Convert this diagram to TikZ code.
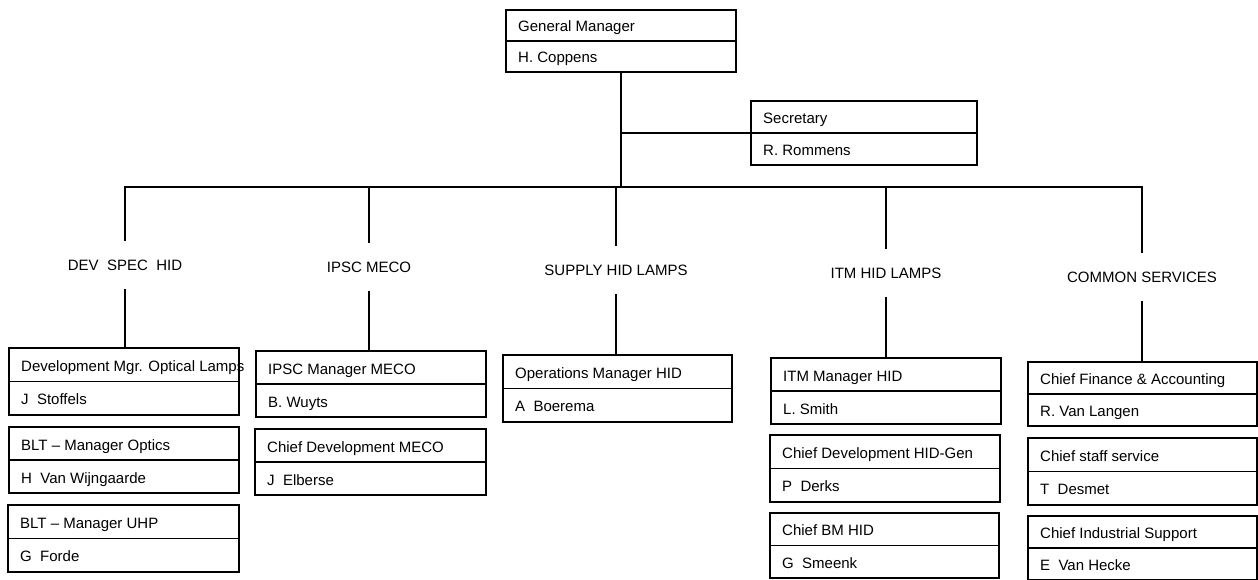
\documentclass[tikz,border=0pt]{standalone}
\usepackage{fontspec}
\setmainfont{Liberation Sans}
\usetikzlibrary{calc}
\tikzset{
  ln/.style={line width=1.5pt, line cap=rect},
  obx/.style={draw, line width=1.5pt, anchor=north west, inner sep=0pt, outer sep=0pt},
  otx/.style={anchor=west, inner sep=0pt, font=\fontsize{15}{17}\selectfont, text height=14pt, text depth=1pt},
  lbl/.style={inner xsep=2pt, inner ysep=19pt, font=\fontsize{15}{17}\selectfont, text height=11pt, text depth=0pt}
}
\newcommand\obox[7]{%
  \node[obx, minimum width=#4pt, minimum height=#5pt] (#1) at (#2,#3) {};
  \draw[ln] (#1.west) -- (#1.east);
  \node[otx] (#1t) at ([xshift=12pt]$(#1.north west)!0.5!(#1.west)$) {#6};
  \node[otx] (#1p) at ([xshift=12pt]$(#1.west)!0.5!(#1.south west)$) {#7};
}
\begin{document}
\begin{tikzpicture}[x=1pt,y=-1pt]
\useasboundingbox (0,0) rectangle (1258,580);
% top
\obox{gm}{506}{10}{230}{62}{General Manager}{H. Coppens}
\obox{sec}{751}{101}{226}{64}{Secretary}{R. Rommens}
% column labels
\node[lbl] (devl) at (125,265) {DEV\ \ SPEC\ \ HID};
\node[lbl] (ipsl) at (369,267) {IPSC MECO};
\node[lbl] (supl) at (616,270) {SUPPLY HID LAMPS};
\node[lbl] (itml) at (886,273) {ITM HID LAMPS};
\node[lbl] (coml) at (1142,277) {COMMON SERVICES};
% DEV column
\obox{dev1}{9}{348}{230}{67}{Development Mgr. Optical Lamps}{J\ \ Stoffels}
\obox{dev2}{9}{427}{230}{66}{BLT -- Manager Optics}{H\ \ Van Wijngaarde}
\obox{dev3}{8}{505}{231}{67}{BLT -- Manager UHP}{G\ \ Forde}
% IPSC column
\obox{ips1}{256}{351}{230}{66}{IPSC Manager MECO}{B. Wuyts}
\obox{ips2}{255}{429}{231}{66}{Chief Development MECO}{J\ \ Elberse}
% SUPPLY column
\obox{sup1}{503}{355}{229}{67}{Operations Manager HID}{A\ \ Boerema}
% ITM column
\obox{itm1}{771}{358}{230}{66}{ITM Manager HID}{L. Smith}
\obox{itm2}{770}{435}{230}{67}{Chief Development HID-Gen}{P\ \ Derks}
\obox{itm3}{770}{513}{229}{65}{Chief BM HID}{G\ \ Smeenk}
% COMMON column
\obox{com1}{1028}{362}{229}{64}{Chief Finance \& Accounting}{R. Van Langen}
\obox{com2}{1028}{438}{229}{67}{Chief staff service}{T\ \ Desmet}
\obox{com3}{1028}{516}{229}{64}{Chief Industrial Support}{E\ \ Van Hecke}
% connectors
\coordinate (bar) at (0,187);
\draw[ln] (gm.south) -- (gm.south |- bar);
\draw[ln] (gm.south |- sec.west) -- (sec.west);
\draw[ln] (devl.north |- bar) -- (coml.north |- bar);
\foreach \l/\b in {devl/dev1, ipsl/ips1, supl/sup1, itml/itm1, coml/com1}{
  \draw[ln] (\l.north |- bar) -- (\l.north);
  \draw[ln] (\l.south) -- (\l.south |- \b.north);
}
\end{tikzpicture}
\end{document}
